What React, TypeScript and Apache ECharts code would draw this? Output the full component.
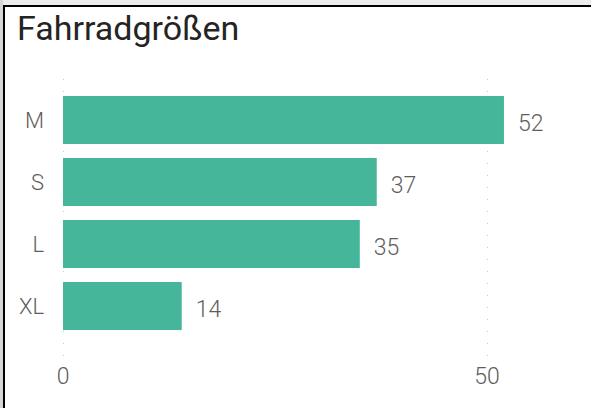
import React, { useEffect, useRef } from "react";
import * as echarts from "echarts";

const categories = ["M", "S", "L", "XL"];
const values = [52, 37, 35, 14];
const xTicks = [0, 50];
const titleText = "Fahrradgrößen";

export default function App() {
  const ref = useRef<HTMLDivElement>(null);
  useEffect(() => {
    if (!ref.current) return;
    const chart = echarts.init(ref.current, undefined, { renderer: "svg" });
    const labelColor = "#605E5C";
    const font = "Roboto, 'Open Sans', sans-serif";
    const xMin = 0;
    const xMax = 60;
    chart.setOption({
      animation: false,
      backgroundColor: "#ffffff",
      title: {
        text: titleText,
        left: 12,
        top: 6,
        textStyle: { fontFamily: font, fontSize: 34, fontWeight: "normal", color: "#252423" },
      },
      graphic: [
        { type: "rect", shape: { x: 0, y: 0, width: 591, height: 5 }, style: { fill: "#ececec" }, silent: true },
        { type: "rect", shape: { x: 0, y: 0, width: 3, height: 408 }, style: { fill: "#d6d6d6" }, silent: true },
        { type: "rect", shape: { x: 3, y: 5, width: 588, height: 2 }, style: { fill: "#000000" }, silent: true },
        { type: "rect", shape: { x: 3, y: 5, width: 2, height: 403 }, style: { fill: "#000000" }, silent: true },
      ],
      grid: [
        { left: 63, right: 19.2, top: 79, bottom: 52 },
        { left: 63, right: 19.2, top: 89, bottom: 71 },
      ],
      xAxis: [
        {
          gridIndex: 0,
          type: "value",
          min: xMin,
          max: xMax,
          interval: 50,
          axisLine: { show: false },
          axisTick: { show: false },
          splitLine: {
            show: true,
            showMaxLine: false,
            lineStyle: { color: "#c8c8c8", width: 1, type: [1, 11] },
          },
          axisLabel: {
            showMaxLabel: false,
            margin: 9,
            color: labelColor,
            fontFamily: font,
            fontWeight: 300,
            fontSize: 23,
            formatter: (v: number) => (xTicks.includes(v) ? String(v) : ""),
          },
        },
        {
          gridIndex: 1,
          type: "value",
          min: xMin,
          max: xMax,
          show: false,
          splitLine: { show: false },
        },
      ],
      yAxis: [
        { gridIndex: 0, type: "category", data: categories, show: false },
        {
          gridIndex: 1,
          type: "category",
          data: categories,
          inverse: true,
          axisLine: { show: false },
          axisTick: { show: false },
          splitLine: { show: false },
          axisLabel: { margin: 19, color: labelColor, fontFamily: font, fontWeight: 300, fontSize: 22 },
        },
      ],
      series: [
        {
          type: "bar",
          xAxisIndex: 1,
          yAxisIndex: 1,
          data: values,
          barCategoryGap: "22.6%",
          itemStyle: { color: "#45B69A" },
          label: {
            show: true,
            position: "right",
            distance: 14,
            offset: [0, 3],
            color: labelColor,
            fontFamily: font,
            fontWeight: 300,
            fontSize: 23,
          },
        },
      ],
    });
    return () => chart.dispose();
  }, []);
  return <div ref={ref} style={{ position: "fixed", left: 0, top: 0, width: 591, height: 408 }} />;
}
